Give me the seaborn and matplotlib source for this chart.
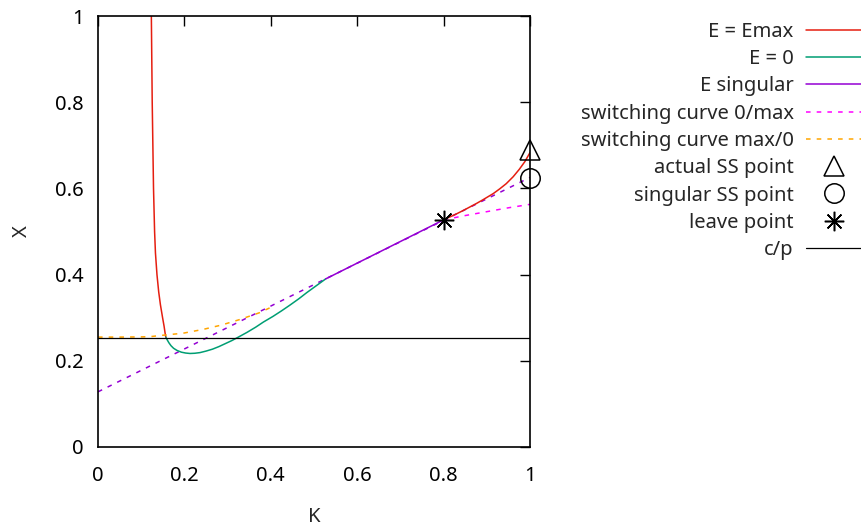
import matplotlib
matplotlib.use("Agg")
import matplotlib.pyplot as plt
import seaborn as sns
import pandas as pd

sns.set_theme(style="white")
plt.rcParams['font.family'] = ['Noto Sans', 'DejaVu Sans']

# curves, (K, X)
emax_left_K = [0.1235, 0.1245, 0.1255, 0.127, 0.1285, 0.131, 0.133, 0.1365, 0.1405, 0.1445, 0.1495, 0.153, 0.1552, 0.157]
emax_left_X = [1.0, 0.9, 0.8, 0.7, 0.6, 0.5, 0.45, 0.4, 0.36, 0.33, 0.30, 0.28, 0.265, 0.255]
emax_right_K = [0.8, 0.815, 0.83, 0.846, 0.861, 0.876, 0.89, 0.9, 0.915, 0.93, 0.945, 0.961, 0.975, 0.988, 1.0]
emax_right_X = [0.527, 0.534, 0.541, 0.549, 0.557, 0.565, 0.573, 0.579, 0.588, 0.599, 0.611, 0.627, 0.644, 0.662, 0.683]

e0_K = [0.157, 0.160, 0.164, 0.169, 0.175, 0.183, 0.193, 0.203, 0.213, 0.224, 0.236, 0.25, 0.265, 0.28,
        0.295, 0.31, 0.325, 0.345, 0.365, 0.383, 0.405, 0.425, 0.444, 0.465, 0.483, 0.505, 0.527]
e0_X = [0.255, 0.249, 0.242, 0.235, 0.229, 0.224, 0.220, 0.218, 0.217, 0.2175, 0.219, 0.2225, 0.227, 0.233,
        0.240, 0.247, 0.255, 0.266, 0.278, 0.290, 0.303, 0.316, 0.329, 0.344, 0.358, 0.374, 0.39]

sing_K = [0.527, 0.8]
sing_X = [0.39, 0.527]
sing_ext_K = [0.0, 1.0]
sing_ext_X = [0.128, 0.6255]

sw_0max_K = [0.8, 0.85, 0.9, 0.95, 1.0]
sw_0max_X = [0.527, 0.537, 0.546, 0.555, 0.563]

sw_max0_K = [0.0, 0.05, 0.1, 0.12, 0.157, 0.197, 0.244, 0.286, 0.329, 0.375, 0.40]
sw_max0_X = [0.255, 0.255, 0.2555, 0.256, 0.26, 0.264, 0.273, 0.283, 0.296, 0.312, 0.324]

actual_ss = (1.0, 0.689)
singular_ss = (1.0, 0.625)
leave_pt = (0.8, 0.527)
c_over_p = 0.254

ticks = [0, 0.2, 0.4, 0.6, 0.8, 1]
tick_labels = ['0', '0.2', '0.4', '0.6', '0.8', '1']

fig = plt.figure(figsize=(8.62, 5.26), dpi=100)
ax = fig.add_axes([98 / 862, 1 - 447 / 526, 432 / 862, 431 / 526])

lw = 1.1
dash = (0, (3, 4))
kw = dict(ax=ax, sort=False, estimator=None, linewidth=lw)

sns.lineplot(x=sing_ext_K, y=sing_ext_X, color='#9400d3', linestyle=dash, label='_nolegend_', **kw)
sns.lineplot(x=emax_left_K, y=emax_left_X, color='#e51e10', label='E = Emax', **kw)
sns.lineplot(x=emax_right_K, y=emax_right_X, color='#e51e10', label='_nolegend_', **kw)
sns.lineplot(x=e0_K, y=e0_X, color='#009e73', label='E = 0', **kw)
sns.lineplot(x=sing_K, y=sing_X, color='#9400d3', label='E singular', **kw)
sns.lineplot(x=sw_0max_K, y=sw_0max_X, color='#ff00ff', linestyle=dash, label='switching curve 0/max', **kw)
sns.lineplot(x=sw_max0_K, y=sw_max0_X, color='#ffa500', linestyle=dash, label='switching curve max/0', **kw)

mk = dict(ax=ax, estimator=None, linestyle='none', color='black', markerfacecolor='none',
          markeredgecolor='black', markeredgewidth=1.1, clip_on=False)
sns.lineplot(x=[actual_ss[0]], y=[actual_ss[1]], marker='^', markersize=15, label='actual SS point', **mk)
sns.lineplot(x=[singular_ss[0]], y=[singular_ss[1]], marker='o', markersize=14, label='singular SS point', **mk)
sns.lineplot(x=[leave_pt[0]], y=[leave_pt[1]], marker=(8, 2, 0), markersize=14, label='leave point', **mk)
ax.axhline(c_over_p, color='black', linewidth=0.9, label='c/p')

ax.set_xlim(0, 1)
ax.set_ylim(0, 1)
ax.set_xticks(ticks)
ax.set_xticklabels(tick_labels)
ax.set_yticks(ticks)
ax.set_yticklabels(tick_labels)
ax.tick_params(axis='both', direction='in', top=True, right=True, length=7.5, width=1,
               labelsize=14.5, colors='black')
ax.tick_params(axis='x', pad=14)
ax.tick_params(axis='y', pad=10)
for s in ax.spines.values():
    s.set_color('black')
    s.set_linewidth(1.2)

ax.set_xlabel('K', fontsize=14.5, labelpad=15)
ax.set_ylabel('X', fontsize=14.5, labelpad=17)

ax.legend(loc='upper right', bbox_to_anchor=(1.0, 1 - 22 / 526), bbox_transform=fig.transFigure,
          frameon=False, markerfirst=False, fontsize=14.5, handlelength=2.8, handletextpad=0.6,
          labelspacing=0.36, borderpad=0, borderaxespad=0)

fig.savefig('out.png', dpi=100)
